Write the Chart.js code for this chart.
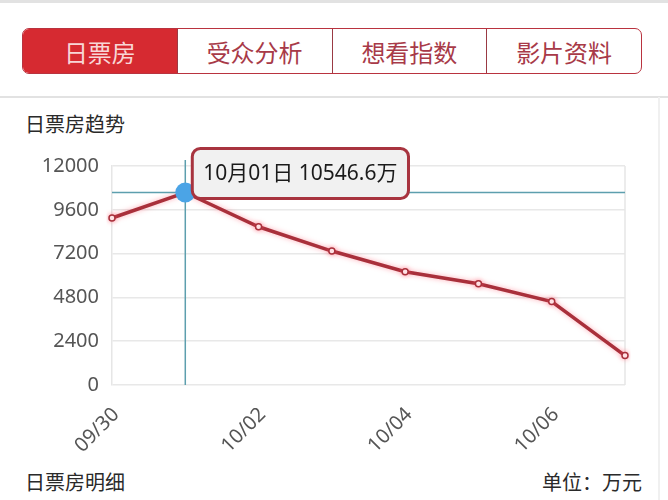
<!DOCTYPE html>
<html><head><meta charset="utf-8">
<script src="https://cdn.jsdelivr.net/npm/chart.js@4.4.0/dist/chart.umd.min.js"></script>
<style>
html,body{margin:0;padding:0;background:#fff;}
#wrap{position:relative;width:668px;height:500px;overflow:hidden;font-family:"Noto Sans","Noto Sans CJK SC",sans-serif;background:#fff;}
#tabs{position:absolute;left:22px;top:28px;width:618px;height:44px;border:1.5px solid #b9333f;border-radius:7px;display:flex;overflow:hidden;}
#tabs div{flex:1;display:flex;align-items:center;justify-content:center;font-size:24px;color:#a83a48;font-family:"Noto Sans CJK SC",sans-serif;border-left:1.5px solid #9a3a44;}
#tabs div.on{background:#d62a31;color:#f8d6d6;border-left:none;}
.t{position:absolute;font-size:20px;color:#2a2a2a;font-family:"Noto Sans CJK SC",sans-serif;line-height:1;}
.sep{position:absolute;left:0;width:668px;height:2px;background:#e2e2e2;}
#cv{position:absolute;left:0;top:0;width:668px;height:500px;}
</style></head>
<body><div id="wrap">
<div class="sep" style="top:0px;height:3px;"></div>
<div class="sep" style="top:96px;"></div>
<div style="position:absolute;left:658px;top:97px;width:2px;height:403px;background:#f0f0f0;"></div>
<div id="tabs"><div class="on">日票房</div><div>受众分析</div><div>想看指数</div><div>影片资料</div></div>
<div class="t" style="left:25px;top:114px;">日票房趋势</div>
<div class="t" style="left:25px;top:472px;">日票房明细</div>
<div class="t" style="right:26px;top:472px;">单位：万元</div>
<div id="cv"><canvas id="c"></canvas></div>
</div>
<script>
const categories = ['09/30','10/01','10/02','10/03','10/04','10/05','10/06','10/07'];
const boxOffice = [9150, 10546.6, 8670, 7340, 6210, 5550, 4570, 1610];
const yTickValues = [0, 2400, 4800, 7200, 9600, 12000];
const shownXLabels = ['09/30','10/02','10/04','10/06'];
const highlightIndex = 1;

const FONT = '"Noto Sans","Noto Sans CJK SC",sans-serif';

const glowPlugin = {
  id:'glow',
  beforeDatasetDraw(chart){ const c=chart.ctx; c.save(); c.shadowColor='rgba(255,90,110,0.5)'; c.shadowBlur=5; },
  afterDatasetDraw(chart){ chart.ctx.restore(); }
};
const framePlugin = {
  id:'frame',
  beforeDatasetsDraw(chart){
    const {ctx, chartArea:a} = chart;
    ctx.save(); ctx.strokeStyle='#e6e6e6'; ctx.lineWidth=1.5;
    ctx.beginPath(); ctx.moveTo(a.right,a.top); ctx.lineTo(a.right,a.bottom); ctx.stroke();
    ctx.restore();
  }
};
const hlPlugin = {
  id:'hl',
  afterDatasetsDraw(chart){
    const {ctx, chartArea:a, scales} = chart;
    const px = scales.x.getPixelForValue(highlightIndex);
    const py = scales.y.getPixelForValue(boxOffice[highlightIndex]);
    ctx.save();
    ctx.strokeStyle='#5d9fae'; ctx.lineWidth=1.5;
    ctx.beginPath(); ctx.moveTo(px,a.top-6); ctx.lineTo(px,a.bottom); ctx.stroke();
    ctx.beginPath(); ctx.moveTo(a.left,py); ctx.lineTo(a.right,py); ctx.stroke();
    ctx.fillStyle='#4ba4e6';
    ctx.beginPath(); ctx.arc(px,py,10,0,Math.PI*2); ctx.fill();
    const [m,d] = categories[highlightIndex].split('/');
    const txt = m+'月'+d+'日 '+boxOffice[highlightIndex]+'万';
    ctx.font = '21px '+FONT;
    const tw = ctx.measureText(txt).width;
    const bx = px+7, by = py-44, bw = tw+22, bh = 50, r = 8;
    ctx.beginPath();
    ctx.roundRect(bx,by,bw,bh,r);
    ctx.fillStyle='#f1f1f1'; ctx.fill();
    ctx.strokeStyle='#a8343f'; ctx.lineWidth=3; ctx.stroke();
    ctx.fillStyle='#1a1a1a'; ctx.textBaseline='middle'; ctx.textAlign='left';
    ctx.fillText(txt,bx+11,by+bh/2);
    ctx.restore();
  }
};

new Chart(document.getElementById('c'), {
  type:'line',
  data:{ labels:categories, datasets:[{
    data:boxOffice, borderColor:'#a9303b', borderWidth:3.5, tension:0,
    pointRadius:3, pointBackgroundColor:'#fff', pointBorderColor:'#a9303b', pointBorderWidth:1.5, fill:false
  }]},
  options:{
    responsive:true, maintainAspectRatio:false, animation:false,
    layout:{padding:{top:166,right:43,left:0,bottom:0}},
    plugins:{legend:{display:false},tooltip:{enabled:false}},
    events:[],
    scales:{
      x:{
        grid:{display:false}, border:{display:false},
        ticks:{autoSkip:false,minRotation:45,maxRotation:45,padding:10,labelOffset:4,color:'#555',font:{size:20,family:FONT},
          callback:(v,i)=> shownXLabels.includes(categories[i]) ? categories[i] : ''},
        afterFit(s){ s.height=115; }
      },
      y:{
        min:0,max:12000,
        afterBuildTicks(s){ s.ticks = yTickValues.map(v=>({value:v})); },
        grid:{color:'#e8e8e8',lineWidth:1.5,drawTicks:false},
        border:{color:'#e6e6e6',width:1.5},
        ticks:{padding:13,color:'#555',font:{size:20,family:FONT},callback:(v)=>String(v)},
        afterFit(s){ s.width=112; }
      }
    }
  },
  plugins:[framePlugin,glowPlugin,hlPlugin]
});
</script>
</body></html>
